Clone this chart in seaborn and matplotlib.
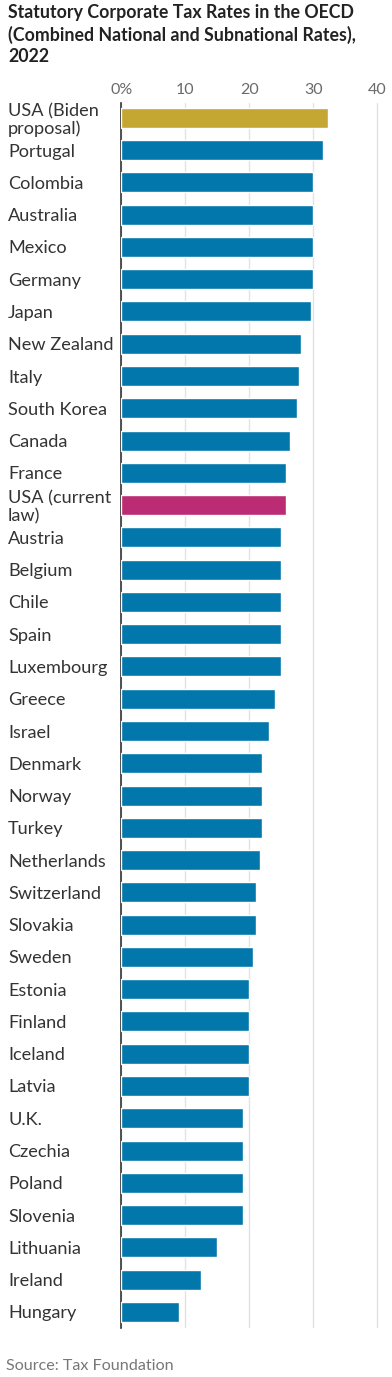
import matplotlib
matplotlib.use("Agg")
import matplotlib.pyplot as plt
import seaborn as sns
import pandas as pd

countries = ["USA (Biden\nproposal)", "Portugal", "Colombia", "Australia", "Mexico", "Germany",
             "Japan", "New Zealand", "Italy", "South Korea", "Canada", "France",
             "USA (current\nlaw)", "Austria", "Belgium", "Chile", "Spain", "Luxembourg",
             "Greece", "Israel", "Denmark", "Norway", "Turkey", "Netherlands", "Switzerland",
             "Slovakia", "Sweden", "Estonia", "Finland", "Iceland", "Latvia", "U.K.",
             "Czechia", "Poland", "Slovenia", "Lithuania", "Ireland", "Hungary"]
rates = [32.3, 31.5, 30.0, 30.0, 30.0, 29.9, 29.7, 28.0, 27.8, 27.5, 26.4, 25.8,
         25.8, 25.0, 25.0, 25.0, 25.0, 24.9, 24.0, 23.0, 22.0, 22.0, 22.0, 21.6, 21.0,
         21.0, 20.6, 20.0, 20.0, 20.0, 20.0, 19.0, 19.0, 19.0, 19.0, 15.0, 12.5, 9.0]
x_ticks = [0, 10, 20, 30, 40]
x_tick_labels = ["0%", "10", "20", "30", "40"]

BLUE = "#0277AC"
GOLD = "#C4A632"
MAGENTA = "#BC2C74"
palette = {c: BLUE for c in countries}
palette["USA (Biden\nproposal)"] = GOLD
palette["USA (current\nlaw)"] = MAGENTA

df = pd.DataFrame({"country": countries, "rate": rates})

sns.set_theme(style="white")
plt.rcParams["font.family"] = ["Lato", "DejaVu Sans"]

W, H = 392, 1377
fig = plt.figure(figsize=(W / 100, H / 100), dpi=100)
left_px, right_px = 121.3, 378.6
top_px, bottom_px = 102.7, 1328
ax = fig.add_axes([left_px / W, 1 - bottom_px / H, (right_px - left_px) / W, (bottom_px - top_px) / H])

sns.barplot(data=df, x="rate", y="country", hue="country", palette=palette, legend=False,
            orient="h", width=0.62, saturation=1, ax=ax, zorder=3)

ax.set_xlim(0, 40.2)
ax.set_ylim(len(countries) - 0.5, -0.47)
ax.set_xticks(x_ticks)
ax.set_xticklabels(x_tick_labels)
ax.xaxis.tick_top()
ax.set_xlabel("")
ax.set_ylabel("")
ax.grid(axis="x", color="#e3e3e3", linewidth=1.0, zorder=0)
ax.grid(axis="y", visible=False)
ax.set_axisbelow(True)
for s in ["top", "right", "bottom"]:
    ax.spines[s].set_visible(False)
ax.spines["left"].set_color("#333333")
ax.spines["left"].set_linewidth(1.2)
ax.tick_params(axis="x", length=0, pad=4, labelsize=11.5, labelcolor="#6a6a6a")
ax.tick_params(axis="y", length=0, pad=(left_px - 8) * 0.72, labelsize=13.1, labelcolor="#333333")
for lab in ax.get_yticklabels():
    lab.set_horizontalalignment("left")
    lab.set_linespacing(1.12)

fig.text(8 / W, 1 - 4 / H,
         "Statutory Corporate Tax Rates in the OECD\n(Combined National and Subnational Rates),\n2022",
         ha="left", va="top", fontsize=12.8, fontweight="bold", color="#222222", linespacing=1.3)
fig.text(6 / W, 1 - 1366 / H, "Source: Tax Foundation", ha="left", va="center",
         fontsize=11.6, color="#777777")

fig.savefig("out.png", dpi=100)
